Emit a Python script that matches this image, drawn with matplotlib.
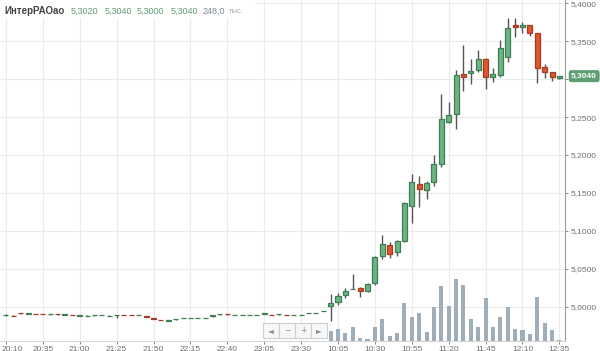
import matplotlib.pyplot as plt
from matplotlib.patches import Rectangle
from matplotlib.ticker import FuncFormatter
from matplotlib.transforms import ScaledTranslation

# 5-minute candles: evening session (20:10 ...) then morning session (10:00 ... 12:35)
opens = [4.9885, 4.9880, 4.9916, 4.9909, 4.9906, 4.9905, 4.9903, 4.9902, 4.9893, 4.9893,
         4.9882, 4.9877, 4.9890, 4.9889, 4.9877, 4.9888, 4.9893, 4.9892, 4.9889, 4.9870,
         4.9847, 4.9828, 4.9813, 4.9838, 4.9847, 4.9847, 4.9847, 4.9847, 4.9881, 4.9904,
         4.9902, 4.9891, 4.9891, 4.9891, 4.9891, 4.9908, 4.9893, 4.9897, 4.9892, 4.9891,
         4.9891, 4.9913, 4.9913, 4.9943, 5.0010, 5.0062, 5.0158, 5.0233, 5.0243, 5.0207,
         5.0309, 5.0672, 5.0813, 5.0725, 5.0870, 5.1332, 5.1618, 5.1539, 5.1648, 5.1881,
         5.2435, 5.2537, 5.3068, 5.3082, 5.3121, 5.3266, 5.3032, 5.3055, 5.3296, 5.3714,
         5.3684, 5.3714, 5.3604, 5.3164, 5.3090, 5.3020]
highs = [4.9897, 4.9895, 4.9920, 4.9911, 4.9906, 4.9905, 4.9904, 4.9902, 4.9895, 4.9893,
         4.9883, 4.9888, 4.9891, 4.9890, 4.9886, 4.9889, 4.9893, 4.9892, 4.9890, 4.9874,
         4.9849, 4.9829, 4.9820, 4.9839, 4.9848, 4.9848, 4.9848, 4.9848, 4.9882, 4.9905,
         4.9902, 4.9892, 4.9892, 4.9892, 4.9892, 4.9909, 4.9893, 4.9904, 4.9892, 4.9892,
         4.9892, 4.9916, 4.9914, 4.9945, 5.0167, 5.0181, 5.0247, 5.0431, 5.0253, 5.0312,
         5.0664, 5.0945, 5.0853, 5.0879, 5.1380, 5.1750, 5.1727, 5.1657, 5.2000, 5.2804,
         5.2699, 5.3121, 5.3450, 5.3262, 5.3384, 5.3275, 5.3151, 5.3516, 5.3802, 5.3802,
         5.3757, 5.3716, 5.3606, 5.3200, 5.3092, 5.3040]
lows = [4.9883, 4.9876, 4.9908, 4.9900, 4.9898, 4.9897, 4.9896, 4.9893, 4.9890, 4.9885,
        4.9880, 4.9876, 4.9883, 4.9888, 4.9876, 4.9850, 4.9884, 4.9886, 4.9888, 4.9862,
        4.9836, 4.9818, 4.9812, 4.9830, 4.9846, 4.9846, 4.9846, 4.9846, 4.9870, 4.9893,
        4.9890, 4.9890, 4.9890, 4.9890, 4.9890, 4.9898, 4.9887, 4.9896, 4.9888, 4.9890,
        4.9890, 4.9912, 4.9912, 4.9940, 4.9815, 5.0022, 5.0115, 5.0227, 5.0128, 5.0194,
        5.0283, 5.0629, 5.0642, 5.0668, 5.0853, 5.1100, 5.1314, 5.1420, 5.1591, 5.1846,
        5.2418, 5.2339, 5.2844, 5.2936, 5.3098, 5.2870, 5.2966, 5.3032, 5.3230, 5.3552,
        5.3604, 5.3569, 5.2953, 5.3011, 5.2976, 5.3000]
closes = [4.9895, 4.9877, 4.9912, 4.9911, 4.9902, 4.9901, 4.9904, 4.9898, 4.9894, 4.9889,
          4.9882, 4.9878, 4.9891, 4.9889, 4.9878, 4.9889, 4.9888, 4.9888, 4.9889, 4.9866,
          4.9840, 4.9820, 4.9818, 4.9839, 4.9847, 4.9847, 4.9847, 4.9847, 4.9882, 4.9905,
          4.9898, 4.9891, 4.9891, 4.9891, 4.9891, 4.9909, 4.9889, 4.9903, 4.9889, 4.9891,
          4.9891, 4.9915, 4.9913, 4.9943, 5.0050, 5.0141, 5.0203, 5.0235, 5.0207, 5.0303,
          5.0659, 5.0823, 5.0691, 5.0866, 5.1363, 5.1648, 5.1548, 5.1635, 5.1877, 5.2471,
          5.2527, 5.3055, 5.3029, 5.3110, 5.3262, 5.3032, 5.3064, 5.3407, 5.3670, 5.3684,
          5.3718, 5.3604, 5.3143, 5.3090, 5.3032, 5.3040]
# volume, million shares (evening session too small to show)
volumes = [0.0] * 44 + [3.9, 4.5, 2.9, 5.5, 0.9, 0.5, 5.3, 8.6, 1.9, 3.1,
                        14.9, 9.5, 10.9, 3.5, 13.3, 21.8, 13.8, 24.6, 22.2, 8.6,
                        5.3, 17.1, 5.3, 9.5, 13.5, 4.5, 4.2, 2.5, 17.3, 7.1,
                        4.2, 0.248]

time_labels = ['20:10', '20:35', '21:00', '21:25', '21:50', '22:15', '22:40', '23:05',
               '23:30', '10:05', '10:30', '10:55', '11:20', '11:45', '12:10', '12:35']
price_ticks = [5.00, 5.05, 5.10, 5.15, 5.20, 5.25, 5.30, 5.35, 5.40]
last_price = 5.3040
ticker = 'ИнтерРАОао'
header_ohlc = ['5,3020', '5,3040', '5,3000', '5,3040']
header_vol = '248,0'

UP_FILL, UP_EDGE = '#6db383', '#3f7d55'
DN_FILL, DN_EDGE = '#e0552f', '#a53c22'
WICK = '#555555'
VOL = '#9eafbb'
GRID = '#ebebeb'
TXT = '#707070'

plt.rcParams['font.family'] = ['Liberation Sans', 'DejaVu Sans']

W, H = 600, 351
fig = plt.figure(figsize=(6, 3.51), dpi=100)
ax = fig.add_axes([0, 10.5 / H, 565 / W, 340.5 / H])
ax2 = ax.twinx()

n = len(opens)
x = list(range(n))


def fmt_price(v, _):
    # the 5,3000 label sits under the last-price marker
    if abs(v - last_price) < 0.01:
        return ''
    return f'{v:.4f}'.replace('.', ',')


# price grid + candles
ax.set_ylim(4.9554, 5.4044)
ax.set_xlim(-0.8, 75.76)
ax.set_yticks(price_ticks)
ax.yaxis.set_major_formatter(FuncFormatter(fmt_price))
ax.set_xticks(range(0, n, 5))
ax.set_xticklabels(time_labels)
ax.yaxis.tick_right()
ax.grid(True, color=GRID, lw=0.8)
ax.set_axisbelow(True)
ax.tick_params(axis='y', length=2.5, pad=1.5, labelsize=6, colors=TXT, width=0.6)
ax.tick_params(axis='x', length=2.5, pad=1.5, labelsize=6, colors=TXT, width=0.6)
for s in ['top', 'left']:
    ax.spines[s].set_visible(False)
ax.spines['right'].set_color('#9a9a9a')
ax.spines['bottom'].set_color('#d5d5d5')

bw = 0.68
for i in x:
    o, h, l, c = opens[i], highs[i], lows[i], closes[i]
    up = c >= o
    ax.vlines(i, l, h, color=WICK, lw=1.0, zorder=2)
    bottom = min(o, c)
    height = max(abs(c - o), 0.0005)
    ax.add_patch(Rectangle((i - bw / 2, bottom), bw, height,
                           facecolor=UP_FILL if up else DN_FILL,
                           edgecolor=UP_EDGE if up else DN_EDGE,
                           lw=0.9, zorder=3))

# volume on its own hidden scale at the bottom
ax2.bar(x, volumes, width=0.55, color=VOL, zorder=1)
ax2.set_ylim(0, 136.2)
ax2.set_yticks([])
ax2.patch.set_visible(False)
for s in ax2.spines.values():
    s.set_visible(False)

# first time label nudged so it stays inside
lab0 = ax.get_xticklabels()[0]
lab0.set_ha('left')
lab0.set_transform(lab0.get_transform() + ScaledTranslation(-0.045, 0, fig.dpi_scale_trans))

# last price marker
ax.annotate(f'{last_price:.4f}'.replace('.', ','), xy=(1.0, last_price),
            xycoords=('axes fraction', 'data'), xytext=(4.5, 0), textcoords='offset points',
            ha='left', va='center', fontsize=6, color='white', fontweight='bold',
            bbox=dict(boxstyle='round,pad=0.3,rounding_size=0.3', fc='#5f9d73', ec='none'),
            annotation_clip=False, zorder=5)

# header
fig.add_artist(Rectangle((0, 1 - 18 / H), 255 / W, 18 / H, transform=fig.transFigure,
                         fc='white', ec='none', zorder=4))
ty = 1 - 11.5 / H
fig.text(4 / W, ty, ticker, fontsize=7, fontweight='bold', color='#444444', va='center', zorder=5)
for xs, s in zip([71, 104.5, 137, 170.5], header_ohlc):
    fig.text(xs / W, ty, s, fontsize=6.5, color='#5f9d73', va='center', zorder=5)
fig.text(203 / W, ty, header_vol, fontsize=6.5, color='#7b8b99', va='center', zorder=5)
fig.text(228.5 / W, ty, 'тыс.', fontsize=5.5, color='#a0a8b0', va='center', zorder=5)

# scroll buttons
for k, g in enumerate(['◄', '−', '+', '►']):
    bx = 263 + k * 16
    fig.add_artist(Rectangle((bx / W, 1 - 338 / H), 16 / W, 15 / H, transform=fig.transFigure,
                             fc='#f7f7f7', ec='#cfcfcf', lw=0.8, zorder=4))
    fig.text((bx + 8) / W, 1 - 330.5 / H, g, fontsize=5.5, color='#8c8c8c',
             ha='center', va='center', family='DejaVu Sans', zorder=5)

fig.savefig('out.png', dpi=100)
